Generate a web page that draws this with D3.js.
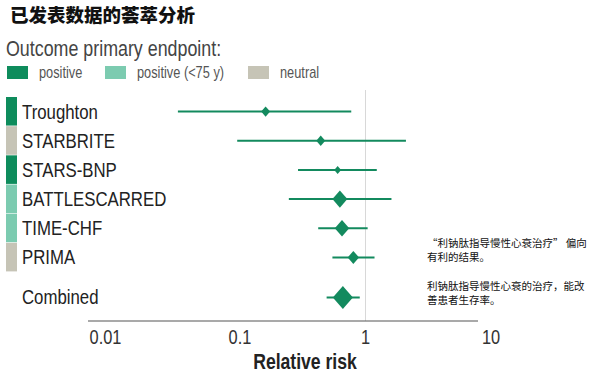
<!DOCTYPE html>
<html>
<head>
<meta charset="utf-8">
<script src="https://cdn.jsdelivr.net/npm/d3@7"></script>
<style>
  body { margin: 0; background: #fff; }
  svg { display: block; }
  .narrow { font-family: "Liberation Sans", Arial, sans-serif; }
  .cjk { font-family: "Noto Sans CJK SC", sans-serif; }
</style>
</head>
<body>
<div id="chart"></div>
<script>
// studies, top to bottom
const studies = ["Troughton", "STARBRITE", "STARS-BNP", "BATTLESCARRED", "TIME-CHF", "PRIMA"];
const outcome = ["positive", "neutral", "positive", "young", "young", "neutral"];
const rr = [0.16, 0.44, 0.60, 0.625, 0.65, 0.80];
const lower = [0.032, 0.095, 0.29, 0.245, 0.42, 0.545];
const upper = [0.77, 2.1, 1.23, 1.61, 1.04, 1.18];
const weight = [5, 5, 3, 14, 13, 8];

const combined = { name: "Combined", rr: 0.66, lower: 0.49, upper: 0.90, weight: 25 };

const legendKeys = ["positive", "young", "neutral"];
const legendLabels = ["positive", "positive (<75 y)", "neutral"];
const tickValues = [0.01, 0.1, 1, 10];

const notes = [
  ["\u201c利钠肽指导慢性心衰治疗\u201d 偏向", "有利的结果。"],
  ["利钠肽指导慢性心衰的治疗，能改", "善患者生存率。"]
];

const width = 613, height = 375;
const svg = d3.select("#chart").append("svg").attr("width", width).attr("height", height);

const color = d3.scaleOrdinal().domain(legendKeys).range(["#0e8c5c", "#7ccbb0", "#c6c4b6"]);
const markColor = "#138a5e";

const x = d3.scaleLog().domain([0.01, 10]).range([114.5, 491]);
const y = d3.scaleBand().domain(studies).range([97, 272]).padding(0);
const yCombined = 297.5;
const half = d3.scaleSqrt().domain([0, 25]).range([0, 10]);

// condensed look: squeeze Liberation Sans horizontally
const squeeze = 0.8;
function narrow(parent, px, py, size) {
  return parent.append("text").attr("class", "narrow")
    .attr("transform", `translate(${px},${py}) scale(${squeeze},1)`)
    .attr("font-size", size);
}

// title
svg.append("text").attr("class", "cjk").attr("x", 10).attr("y", 22)
  .attr("font-size", 18.5).attr("font-weight", 900).attr("fill", "#111")
  .text("已发表数据的荟萃分析");

narrow(svg, 6, 56, 22.3).attr("fill", "#444").text("Outcome primary endpoint:");

// legend
const legendX = [7, 105, 248];
legendKeys.forEach((k, i) => {
  svg.append("rect").attr("x", legendX[i]).attr("y", 66).attr("width", 21).attr("height", 13)
    .attr("fill", color(k));
  narrow(svg, legendX[i] + 32, 78, 16).attr("fill", "#555").text(legendLabels[i]);
});

// reference line at 1
svg.append("line").attr("x1", x(1)).attr("x2", x(1)).attr("y1", 90).attr("y2", 321)
  .attr("stroke", "#d8d8d8").attr("stroke-width", 1);

// left colour bars
svg.append("g").selectAll("rect").data(studies).join("rect")
  .attr("x", 6).attr("width", 11)
  .attr("y", (d) => y(d)).attr("height", y.bandwidth() - 0.6)
  .attr("fill", (d, i) => color(outcome[i]));

// study labels
studies.forEach((s) => {
  narrow(svg, 22, y(s) + y.bandwidth() / 2 + 7, 21).attr("fill", "#222").text(s);
});
narrow(svg, 22, yCombined + 6.5, 21).attr("fill", "#222").text(combined.name);

const rows = studies.map((s, i) => ({
  name: s, rr: rr[i], lower: lower[i], upper: upper[i], weight: weight[i],
  cy: y(s) + y.bandwidth() / 2
}));
rows.push({ ...combined, cy: yCombined });

const marks = svg.append("g");
marks.selectAll("line").data(rows).join("line")
  .attr("x1", (d) => x(d.lower)).attr("x2", (d) => x(d.upper))
  .attr("y1", (d) => d.cy).attr("y2", (d) => d.cy)
  .attr("stroke", markColor).attr("stroke-width", 2);

marks.selectAll("path").data(rows).join("path")
  .attr("fill", markColor)
  .attr("d", (d) => {
    const cx = x(d.rr), w = half(d.weight), h = w * 1.15;
    return `M${cx - w},${d.cy}L${cx},${d.cy - h}L${cx + w},${d.cy}L${cx},${d.cy + h}Z`;
  });

// axis
svg.append("line").attr("x1", 88).attr("x2", 478).attr("y1", 321).attr("y2", 321)
  .attr("stroke", "#555").attr("stroke-width", 1.2);

tickValues.forEach((v, i) => {
  narrow(svg, x(v) + (i === 0 ? -9 : 0), 344, 20.5)
    .attr("text-anchor", "middle").attr("fill", "#333")
    .text(d3.format("~g")(v));
});

narrow(svg, 305, 369, 22).attr("text-anchor", "middle").attr("font-weight", 700)
  .attr("fill", "#222").text("Relative risk");

// annotations
const noteY = [247, 290];
notes.forEach((lines, i) => {
  lines.forEach((line, j) => {
    svg.append("text").attr("class", "cjk").attr("font-size", 10.5).attr("fill", "#111")
      .attr("x", 427).attr("y", noteY[i] + j * 14)
      .text(line);
  });
});
</script>
</body>
</html>
